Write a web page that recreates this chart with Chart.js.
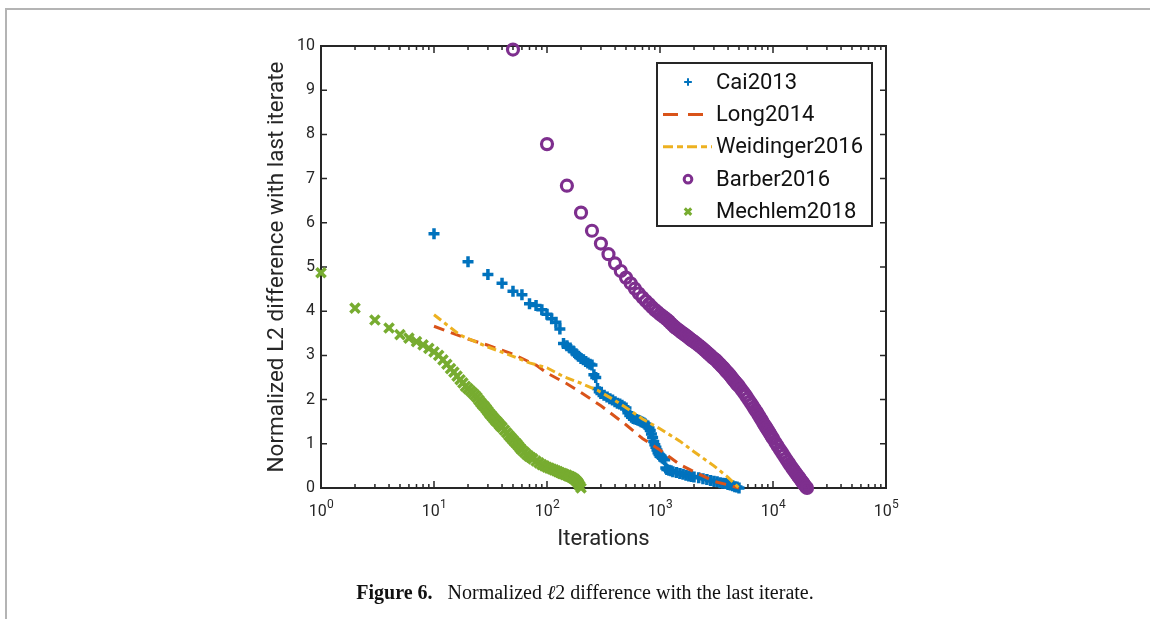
<!DOCTYPE html>
<html>
<head>
<meta charset="utf-8">
<script src="https://cdn.jsdelivr.net/npm/chart.js@4"></script>
<style>
  html, body { margin: 0; padding: 0; background: #fff; }
  #wrap { position: relative; width: 1150px; height: 619px; overflow: hidden; }
  #frame { position: absolute; left: 5px; top: 8px; width: 1200px; height: 700px;
           border-top: 2px solid #b4b4b4; border-left: 2px solid #b4b4b4; }
  canvas { position: absolute; left: 0; top: 0; }
  #caption { position: absolute; left: 0; width: 1170px; top: 581px; text-align: center;
             font-family: "Liberation Serif", "DejaVu Serif", serif; font-size: 20px; color: #111; }
</style>
</head>
<body>
<div id="wrap">
  <div id="frame"></div>
  <canvas id="myChart" width="1150" height="619"></canvas>
  <div id="caption"><b>Figure 6.</b>&nbsp;&nbsp; Normalized <i>ℓ</i>2 difference with the last iterate.</div>
</div>
<script>
// tick labels
const xTickValues = [1, 10, 100, 1000, 10000, 100000];
const xTickExponents = ['0', '1', '2', '3', '4', '5'];

// Cai2013
const caiX = [10,20,30,40,50,60,70,80,90,100,110,120,130,140,150,160,170,180,190,200,210,220,230,240,250,260,270,280,290,
  300,320,340,360,380,400,420,440,460,480,500,520,540,560,580,600,620,640,660,680,700,720,740,760,780,800,820,840,860,880,
  900,920,940,960,980,1000,1025,1050,1075,1100,1125,1150,1200,1250,1300,1400,1500,1600,1700,1800,1900,2000,
  2200,2400,2600,2800,3000,3200,3400,3600,3800,4000,4200,4400,4600,4800,5000];
const caiY = [5.75,5.12,4.83,4.63,4.45,4.37,4.17,4.13,4.03,3.93,3.83,3.75,3.60,3.27,3.22,3.17,3.10,3.04,2.98,2.93,2.90,2.86,2.83,2.80,2.78,2.56,2.50,2.25,2.18,
  2.14,2.10,2.06,2.02,1.99,1.95,1.92,1.90,1.87,1.84,1.81,1.70,1.64,1.60,1.57,1.56,1.55,1.53,1.52,1.50,1.49,1.47,1.45,1.42,1.40,1.36,1.30,1.22,1.14,1.05,
  0.98,0.92,0.86,0.80,0.76,0.72,0.70,0.68,0.66,0.64,0.45,0.42,0.40,0.39,0.37,0.35,0.33,0.31,0.29,0.27,0.26,0.25,
  0.23,0.21,0.19,0.17,0.15,0.14,0.12,0.11,0.10,0.08,0.07,0.05,0.03,0.02,0.00];

// Long2014
const longX = [10,20,30,50,80,100,150,200,300,500,700,1000,1500,2000,3000,4000,5000];
const longY = [3.66,3.37,3.23,3.03,2.78,2.60,2.36,2.16,1.86,1.43,1.12,0.86,0.53,0.37,0.15,0.07,0.00];

// Weidinger2016
const weidX = [10,17,20,30,50,70,100,140,200,280,400,550,700,1000,1500,2000,3000,4000,5000];
const weidY = [3.92,3.46,3.38,3.19,2.98,2.83,2.72,2.52,2.37,2.21,1.98,1.75,1.56,1.34,1.06,0.82,0.50,0.24,0.00];

// Barber2016
const barbX = [50,100,150,200,250,300,350,400,450,500,550,600,650,700,750,800,850,900,950,1000,
  1050,1100,1150,1200,1250,1300,1350,1400,1450,1500,1550,1600,1650,1700,1750,1800,1850,1900,1950,2000,
  2100,2200,2300,2400,2500,2600,2700,2800,2900,3000,3100,3200,3300,3400,3500,3600,3700,3800,3900,4000,
  4100,4200,4300,4400,4500,4600,4700,4800,4900,5000,
  5250,5500,5750,6000,6250,6500,6750,7000,7250,7500,7750,8000,8250,8500,8750,9000,9250,9500,9750,10000,
  10500,11000,11500,12000,12500,13000,13500,14000,14500,15000,15500,16000,16500,17000,17500,18000,18500,19000,19500,20000];
const barbY = [9.92,7.78,6.84,6.23,5.82,5.53,5.29,5.08,4.91,4.76,4.63,4.51,4.40,4.31,4.23,4.16,4.09,4.03,3.98,3.93,
  3.89,3.85,3.81,3.77,3.72,3.68,3.64,3.61,3.58,3.55,3.52,3.50,3.47,3.45,3.42,3.40,3.37,3.35,3.33,3.31,
  3.27,3.23,3.19,3.15,3.11,3.07,3.03,3.00,2.96,2.93,2.90,2.87,2.83,2.80,2.76,2.73,2.70,2.66,2.63,2.60,
  2.57,2.54,2.50,2.47,2.44,2.41,2.38,2.35,2.33,2.30,
  2.23,2.16,2.09,2.02,1.95,1.89,1.82,1.76,1.70,1.64,1.58,1.52,1.46,1.41,1.36,1.31,1.26,1.21,1.16,1.12,
  1.03,0.95,0.87,0.80,0.73,0.66,0.60,0.54,0.48,0.43,0.38,0.33,0.28,0.24,0.19,0.15,0.11,0.07,0.03,0.00];

// Mechlem2018
const mechX = [1,2,3,4,5,6,7,8,9,10,11,12,13,14,15,16,17,18,19,20,21,22,23,24,25,26,27,28,29,30,31,32,33,34,35,36,37,38,39,40,
  42,44,46,48,50,52,54,56,58,60,63,66,69,72,75,80,85,90,95,100,105,110,115,120,125,130,135,140,145,150,
  155,160,165,170,175,180,185,190,195,200];
const mechY = [4.87,4.07,3.80,3.62,3.47,3.39,3.31,3.24,3.16,3.08,3.00,2.90,2.80,2.70,2.62,2.53,2.45,2.38,2.30,2.25,
  2.20,2.15,2.10,2.05,1.99,1.93,1.88,1.84,1.79,1.74,1.69,1.65,1.61,1.57,1.53,1.50,1.47,1.43,1.40,1.37,
  1.31,1.25,1.19,1.14,1.09,1.04,1.00,0.95,0.90,0.86,0.81,0.76,0.72,0.69,0.66,0.61,0.57,0.53,0.50,0.47,0.45,0.43,0.41,0.39,0.37,0.35,0.33,0.32,0.30,0.29,
  0.27,0.26,0.24,0.22,0.20,0.17,0.14,0.10,0.05,0.00];

const toPoints = (xs, ys) => xs.map((x, i) => ({ x: x, y: ys[i] }));

const axisColor = '#262626';

// MATLAB style box with inward ticks on all sides
const axesBox = {
  id: 'axesBox',
  beforeDatasetsDraw(chart) {
    const { ctx, chartArea: a, scales: { x, y } } = chart;
    ctx.save();
    ctx.strokeStyle = axisColor;
    ctx.lineWidth = 1.5;
    ctx.beginPath();
    y.ticks.forEach(t => {
      const py = y.getPixelForValue(t.value);
      ctx.moveTo(a.left, py); ctx.lineTo(a.left + 6, py);
      ctx.moveTo(a.right, py); ctx.lineTo(a.right - 6, py);
    });
    for (let d = 0; d < 5; d++) {
      for (let k = 1; k <= 10; k++) {
        const v = k * Math.pow(10, d);
        const px = x.getPixelForValue(v);
        const len = (k === 1 || k === 10) ? 7 : 4;
        ctx.moveTo(px, a.bottom); ctx.lineTo(px, a.bottom - len);
        ctx.moveTo(px, a.top); ctx.lineTo(px, a.top + len);
      }
    }
    ctx.stroke();
    ctx.lineWidth = 2;
    ctx.strokeRect(a.left, a.top, a.right - a.left, a.bottom - a.top);

    // x tick labels with superscript exponents
    ctx.fillStyle = axisColor;
    ctx.textBaseline = 'alphabetic';
    ctx.textAlign = 'left';
    xTickValues.forEach((v, i) => {
      const px = x.getPixelForValue(v);
      ctx.font = '16px Roboto';
      const wb = ctx.measureText('10').width;
      ctx.font = '12px Roboto';
      const we = ctx.measureText(xTickExponents[i]).width;
      const x0 = px - (wb + we) / 2;
      ctx.font = '16px Roboto';
      ctx.fillText('10', x0, a.bottom + 28);
      ctx.font = '12px Roboto';
      ctx.fillText(xTickExponents[i], x0 + wb + 0.5, a.bottom + 20);
    });
    ctx.restore();
  }
};

// boxed legend in the north-east corner
const legendBox = {
  id: 'legendBox',
  afterDraw(chart) {
    const { ctx, chartArea: a } = chart;
    const w = 215, h = 163;
    const left = a.right - 14 - w, top = a.top + 17;
    ctx.save();
    ctx.fillStyle = '#fff';
    ctx.fillRect(left, top, w, h);
    ctx.strokeStyle = axisColor;
    ctx.lineWidth = 2;
    ctx.strokeRect(left, top, w, h);
    chart.data.datasets.forEach((ds, i) => {
      const cy = top + 19 + i * 32.4;
      const mx = left + 31;
      ctx.strokeStyle = ds.borderColor;
      if (ds.showLine) {
        ctx.lineWidth = ds.borderWidth;
        ctx.setLineDash(ds.legendDash);
        ctx.beginPath();
        ctx.moveTo(left + 6, cy); ctx.lineTo(left + 55, cy);
        ctx.stroke();
        ctx.setLineDash([]);
      } else {
        ctx.fillStyle = ds.backgroundColor;
        Chart.helpers.drawPoint(ctx, {
          pointStyle: ds.pointStyle, radius: ds.pointRadius * 0.7,
          borderWidth: ds.borderWidth * 0.9, rotation: 0
        }, mx, cy);
      }
      ctx.fillStyle = '#111';
      ctx.font = '22px Roboto';
      ctx.textBaseline = 'middle';
      ctx.fillText(ds.label, left + 59, cy + 1);
    });
    ctx.restore();
  }
};

new Chart('myChart', {
  type: 'scatter',
  data: {
    datasets: [
      { label: 'Cai2013', data: toPoints(caiX, caiY), pointStyle: 'cross', pointRadius: 5.5,
        borderColor: '#0072BD', backgroundColor: '#0072BD', borderWidth: 3.5, order: 5, clip: false },
      { label: 'Long2014', data: toPoints(longX, longY), showLine: true, pointRadius: 0,
        borderColor: '#D95319', borderWidth: 3, borderDash: [11, 7], legendDash: [15, 10], order: 4, clip: false },
      { label: 'Weidinger2016', data: toPoints(weidX, weidY), showLine: true, pointRadius: 0,
        borderColor: '#EDB120', borderWidth: 3, borderDash: [9, 4, 4, 4], legendDash: [10, 4, 6, 4], order: 3, clip: false },
      { label: 'Barber2016', data: toPoints(barbX, barbY), pointStyle: 'circle', pointRadius: 5.5,
        borderColor: '#7E2F8E', backgroundColor: 'rgba(0,0,0,0)', borderWidth: 3.2, order: 2, clip: false },
      { label: 'Mechlem2018', data: toPoints(mechX, mechY), pointStyle: 'crossRot', pointRadius: 6.5,
        borderColor: '#77AC30', backgroundColor: '#77AC30', borderWidth: 3.5, order: 1, clip: false }
    ]
  },
  options: {
    responsive: false,
    animation: false,
    devicePixelRatio: 1,
    layout: { padding: { top: 46, right: 264, left: 0, bottom: 0 } },
    elements: { line: { tension: 0 }, point: { hoverRadius: 0 } },
    plugins: { legend: { display: false }, tooltip: { enabled: false } },
    scales: {
      x: {
        type: 'logarithmic', min: 1, max: 100000,
        grid: { display: false, drawTicks: false }, border: { display: false },
        ticks: { display: false },
        afterBuildTicks: s => { s.ticks = xTickValues.map(v => ({ value: v })); },
        afterFit: s => { s.height = 131; },
        title: { display: true, text: 'Iterations', color: axisColor,
                 font: { family: 'Roboto', size: 22 }, padding: { top: 0, bottom: 66 } }
      },
      y: {
        min: 0, max: 10,
        grid: { display: false, drawTicks: false }, border: { display: false },
        ticks: { stepSize: 1, padding: 6, color: axisColor, font: { family: 'Roboto', size: 16 } },
        afterFit: s => { s.width = 321; },
        title: { display: true, text: 'Normalized L2 difference with last iterate', color: axisColor,
                 font: { family: 'Roboto', size: 22.5 }, padding: { top: 264, bottom: 0 } }
      }
    }
  },
  plugins: [axesBox, legendBox]
});
</script>
</body>
</html>
